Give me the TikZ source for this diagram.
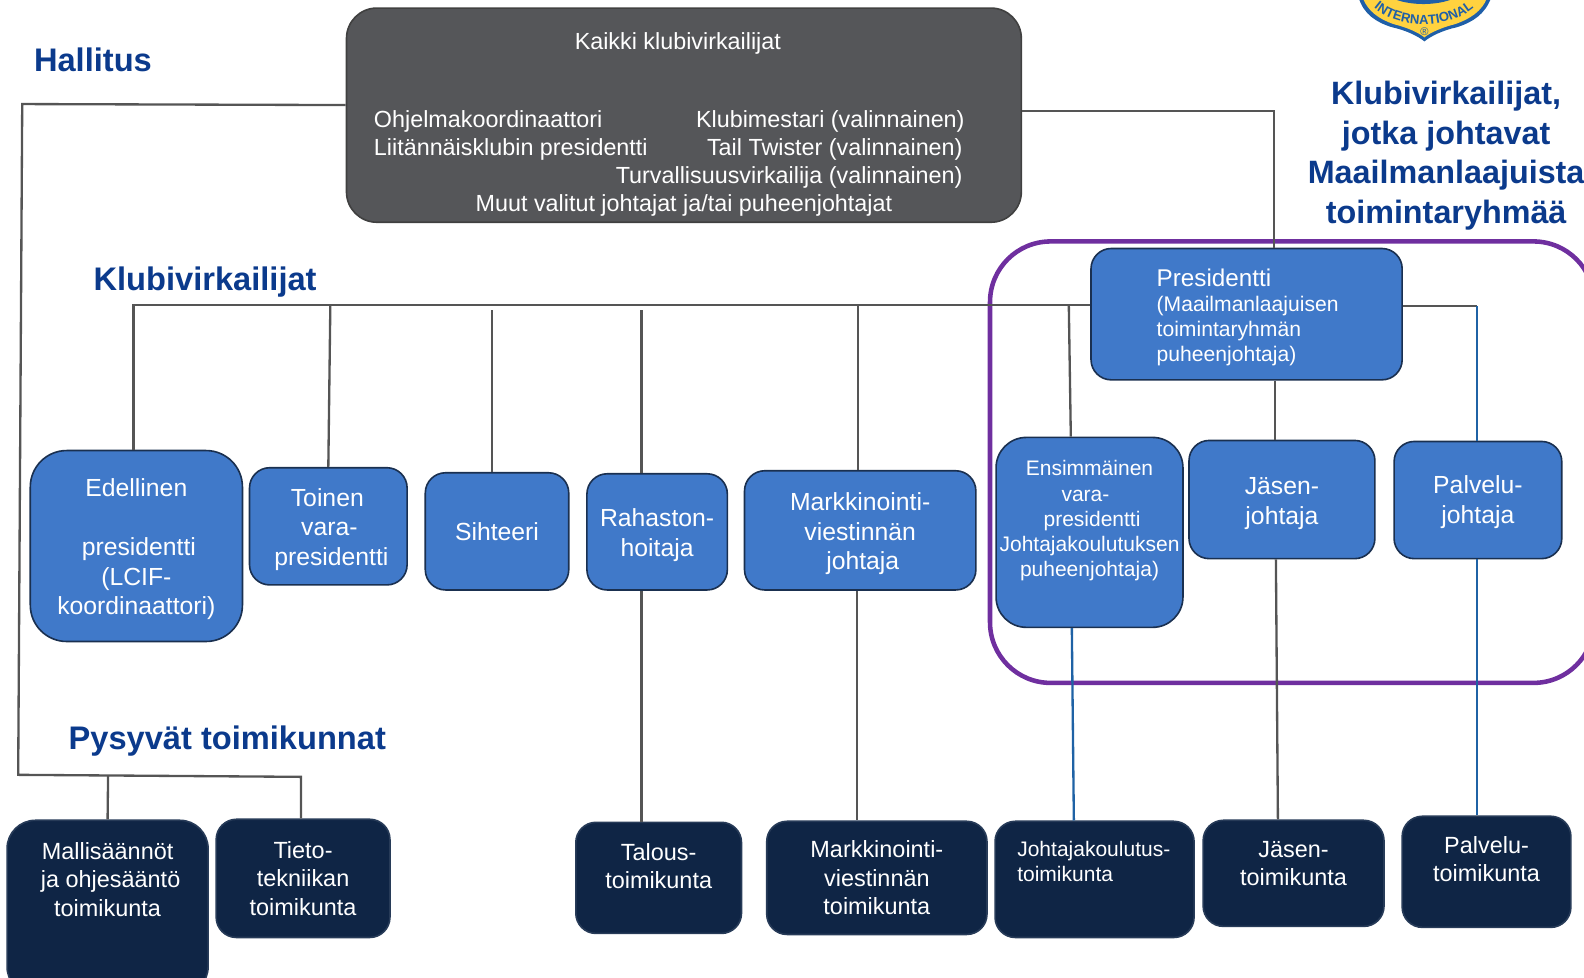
\documentclass[tikz,border=0pt]{standalone}
\usepackage{fontspec}
\setmainfont{Liberation Sans}
\usetikzlibrary{calc,decorations.text}
\definecolor{boxblue}{HTML}{4079C9}
\definecolor{navybox}{HTML}{0F2545}
\definecolor{graybox}{HTML}{555659}
\definecolor{linegray}{HTML}{555555}
\definecolor{lineblue}{HTML}{1F62A5}
\definecolor{headblue}{HTML}{0B3A8C}
\definecolor{purp}{HTML}{6F2F9F}
\definecolor{lionsyellow}{HTML}{FFD23F}
\definecolor{lionsblue}{HTML}{1F5FA8}
\newcommand{\bx}[7]{%
  \pgfmathsetmacro{\cxx}{(#2+#4)/2}\pgfmathsetmacro{\cyy}{(#3+#5)/2}%
  \pgfmathsetmacro{\ww}{#4-#2}\pgfmathsetmacro{\hh}{#5-#3}%
  \node[#6,minimum width=\ww pt,minimum height=\hh pt] (#1) at (\cxx,\cyy) {#7};}
\newcommand{\tp}[1]{\rule{0pt}{#1pt}}
\tikzset{
  base/.style={rectangle,rounded corners=20pt,align=center,inner sep=0pt,text=white,line width=1.6pt},
  blue box/.style={base,fill=boxblue,draw=black!60!boxblue,font=\fontsize{24.5}{29.5}\selectfont},
  navy box/.style={base,fill=navybox,draw=navybox!90!white,font=\fontsize{23.2}{28}\selectfont},
  gray box/.style={base,rounded corners=30pt,fill=graybox,draw=black!75},
  gtext/.style={text=white,inner sep=0pt,font=\fontsize{23.1}{27}\selectfont},
  head/.style={text=headblue,inner sep=0pt,align=center,font=\fontsize{32.3}{39}\selectfont\bfseries},
  conn/.style={draw=linegray,line width=2.3pt},
  connb/.style={draw=lineblue,line width=2.3pt},
}
\begin{document}
\begin{tikzpicture}[x=1pt,y=-1pt]
\useasboundingbox (0,0) rectangle (1568,968);
\begin{scope}
\clip (0,0) rectangle (1568,968);
% logo
\path[fill=lionsblue] (1345,-2) .. controls (1350,14) and (1362,22) .. (1378,27) .. controls (1392,30) and (1404,36) .. (1410,41) .. controls (1416,36) and (1428,30) .. (1442,27) .. controls (1458,22) and (1470,14) .. (1476,-2) -- cycle;
\path[fill=lionsyellow] (1349,-2) .. controls (1354,11) and (1365,19) .. (1380,24) .. controls (1392,27) and (1404,32) .. (1410,37) .. controls (1416,32) and (1428,27) .. (1440,24) .. controls (1455,19) and (1467,11) .. (1472,-2) -- cycle;
\path[fill=lionsblue] (1378,-2) .. controls (1386,2) and (1398,4) .. (1409,4) .. controls (1420,4) and (1432,2) .. (1440,-2) -- cycle;
\path[postaction={decorate,decoration={text along path,text align=center,text={|\fontsize{13}{14}\selectfont\bfseries\color{lionsblue}|INTERNATIONAL}}}] (1355,3) .. controls (1380,31) and (1438,31) .. (1464,3);
\node[text=lionsblue,inner sep=0pt,font=\fontsize{11}{12}\selectfont] (reg) at (1410,31) {®};
\path[draw=purp,line width=4.5pt,rounded corners=60pt] (980,239) rectangle (1578,676);
\end{scope}
\coordinate (lefttop) at (22,103);
\coordinate (leftbot) at (18,767);
\coordinate (rightj) at (1261,110);
\coordinate (mainl) at (132,302);
\coordinate (presr) at (1462,303);
\coordinate (botr) at (298,769);
\coordinate (botm) at (107,768);
\coordinate (t2) at (327,302);
\coordinate (t3) at (487,307);
\coordinate (t4) at (635,307);
\coordinate (t5) at (849,302);
\coordinate (t6) at (1058,302);
% nodes
\bx{top}{343}{8}{1011}{220}{gray box}{}
\bx{pres}{1080}{246}{1388}{376}{blue box,font=\fontsize{20.9}{25}\selectfont,align=left,text width=178pt}{\tp{24}{\fontsize{24}{27}\selectfont Presidentti}\\(Maailmanlaajuisen\\toimintaryhmän\\puheenjohtaja)}
\bx{edel}{30}{446}{240}{635}{blue box,rounded corners=36pt}{\tp{24}Edellinen\\[29pt]\hspace*{5pt}presidentti\\(LCIF-\\koordinaattori)}
\bx{toinen}{247}{463}{403}{579}{blue box}{\tp{24}\hspace*{-2pt}Toinen\\\hspace*{2pt}vara-\\\hspace*{6pt}presidentti}
\bx{siht}{421}{468}{563}{584}{blue box}{Sihteeri}
\bx{rah}{581}{469}{720}{584}{blue box}{\tp{23.5}Rahaston-\\hoitaja}
\bx{mark}{737}{466}{966}{584}{blue box}{\tp{24.5}Markkinointi-\\viestinnän\\\hspace*{5pt}johtaja}
\bx{ens}{986}{433}{1171}{621}{blue box,rounded corners=30pt,font=\fontsize{20.8}{25}\selectfont}{Ensimmäinen\\\hspace*{-8pt}vara-\\\hspace*{5pt}presidentti\\Johtajakoulutuksen\\puheenjohtaja)\\[2pt]\mbox{}}
\bx{jas}{1177}{436}{1361}{553}{blue box}{\tp{24.5}Jäsen-\\johtaja}
\bx{pal}{1380}{437}{1546}{553}{blue box}{\tp{22.5}Palvelu-\\johtaja}
\bx{mall}{7}{812}{206}{985}{navy box,rounded corners=28pt}{Mallisäännöt\\\hspace*{6pt}ja ohjesääntö\\toimikunta\\[28pt]\mbox{}}
\bx{tieto}{214}{811}{386}{928}{navy box}{Tieto-\\tekniikan\\toimikunta}
\bx{talo}{570}{814}{734}{924}{navy box}{Talous-\\toimikunta\\[-4pt]\mbox{}}
\bx{markv}{759}{813}{977}{925}{navy box}{Markkinointi-\\viestinnän\\toimikunta}
\bx{joht}{985}{813}{1182}{928}{navy box,font=\fontsize{20.8}{25.5}\selectfont,align=left,text width=153pt}{Johtajakoulutus-\\toimikunta\\[10pt]\mbox{}}
\bx{jast}{1191}{812}{1370}{917}{navy box}{Jäsen-\\toimikunta\\[-8pt]\mbox{}}
\bx{palt}{1388}{808}{1555}{918}{navy box}{Palvelu-\\toimikunta\\[-2pt]\mbox{}}
% top box texts
\node[gtext] (g1) at (671,43) {Kaikki klubivirkailijat};
\node[gtext,anchor=west] (g2) at (370,120) {Ohjelmakoordinaattori};
\node[gtext,anchor=east] (g3) at (955,120) {Klubimestari (valinnainen)};
\node[gtext,anchor=west] (g4) at (370,148) {Liitännäisklubin presidentti};
\node[gtext,anchor=east] (g5) at (953,148) {Tail Twister (valinnainen)};
\node[gtext,anchor=east] (g6) at (953,176) {Turvallisuusvirkailija (valinnainen)};
\node[gtext] (g7) at (677,203) {Muut valitut johtajat ja/tai puheenjohtajat};
% headings
\node[head] (h1) at (92,59) {Hallitus};
\node[head] (h2) at (203,279) {Klubivirkailijat};
\node[head] (h3) at (225,734) {Pysyvät toimikunnat};
\node[head,font=\fontsize{32}{39}\selectfont\bfseries] (h4) at (1431.5,154) {Klubivirkailijat,\\jotka johtavat\\Maailmanlaajuista\\toimintaryhmää};
% connectors
\draw[conn] ([yshift=10pt]top.west) -- (lefttop) -- (leftbot) -- (botr) -- ([xshift=-2pt]tieto.north);
\draw[conn] (botm) -- (mall.north);
\draw[conn] ([yshift=4pt]top.east) -- (rightj) -- ([xshift=27pt]pres.north);
\draw[conn] ([yshift=9pt]pres.west) -- (mainl) -- ([xshift=-3pt]edel.north);
\draw[conn] (t2) -- (toinen.north);
\draw[conn] (t3) -- ([xshift=-5pt]siht.north);
\draw[conn] (t4) -- ([xshift=-15.5pt]rah.north);
\draw[conn] (t5) -- ([xshift=-2.5pt]mark.north);
\draw[conn] (t6) -- ([xshift=-18.5pt]ens.north);
\draw[conn] ([xshift=28pt]pres.south) -- ([xshift=-7pt]jas.north);
\draw[conn] ([yshift=8pt]pres.east) -- (presr);
\draw[connb] (presr) -- ([xshift=-1pt]pal.north);
\draw[conn] ([xshift=-15.5pt]rah.south) -- ([xshift=-17pt]talo.north);
\draw[conn] ([xshift=-3.5pt]mark.south) -- ([xshift=-20pt]markv.north);
\draw[connb] ([xshift=-17.5pt]ens.south) -- ([xshift=-20.5pt]joht.north);
\draw[conn] ([xshift=-6pt]jas.south) -- ([xshift=-15.5pt]jast.north);
\draw[connb] ([xshift=-1pt]pal.south) -- ([xshift=-9.5pt]palt.north);
\end{tikzpicture}
\end{document}
